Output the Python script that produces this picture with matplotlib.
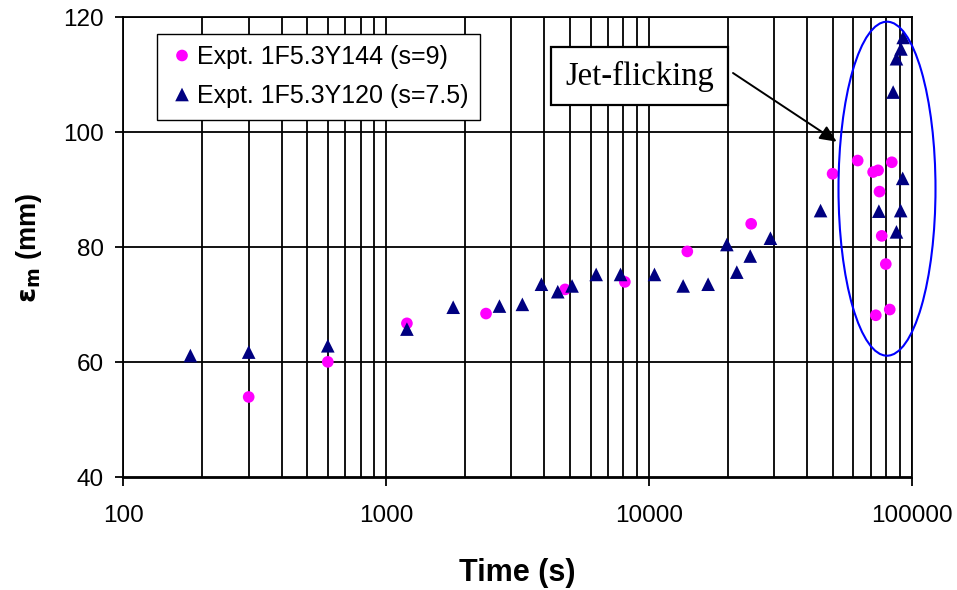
import matplotlib
matplotlib.use("Agg")
import matplotlib.pyplot as plt
from matplotlib.patches import Ellipse
from matplotlib.ticker import LogLocator, FixedLocator, NullFormatter

# ---- data ----
t_s9 = [300, 600, 1200, 2400, 4800, 8100, 14000, 24500, 50000, 62300,
        71300, 74500, 75400, 76900, 79700, 73000, 82500, 84000]
em_s9 = [54.0, 60.1, 66.8, 68.5, 72.7, 74.0, 79.3, 84.1, 92.8, 95.1,
         93.1, 93.4, 89.7, 82.0, 77.1, 68.2, 69.2, 94.8]

t_s75 = [180, 300, 600, 1200, 1800, 2700, 3300, 3900, 4500, 5100, 6300,
         7800, 10500, 13500, 16800, 19800, 21600, 24300, 29000, 45000,
         75000, 85000, 87500, 91000, 92800, 92400, 90800, 87500]
em_s75 = [61.2, 61.8, 62.9, 65.8, 69.6, 69.8, 70.1, 73.6, 72.3, 73.3, 75.3,
          75.3, 75.3, 73.3, 73.6, 80.5, 75.7, 78.5, 81.6, 86.4,
          86.3, 107.0, 112.8, 114.5, 116.5, 92.0, 86.4, 82.7]

label_s9 = "Expt. 1F5.3Y144 (s=9)"
label_s75 = "Expt. 1F5.3Y120 (s=7.5)"
xticks = [100, 1000, 10000, 100000]
xticklabels = ["100", "1000", "10000", "100000"]
yticks = [40, 60, 80, 100, 120]
annot_text = "Jet-flicking"

plt.rcParams['font.family'] = ['Liberation Sans', 'DejaVu Sans']

W, H = 957, 590
fig = plt.figure(figsize=(W / 100, H / 100), dpi=100)
x0, x1, ytop, ybot = 123.3, 911.7, 17.3, 477.5
ax = fig.add_axes([x0 / W, (H - ybot) / H, (x1 - x0) / W, (ybot - ytop) / H])

ax.set_xscale('log')
ax.set_xlim(100, 100000)
ax.set_ylim(40, 120)

ax.scatter(t_s9, em_s9, marker='o', s=8.4**2, color='#FF00FF',
           edgecolors='none', zorder=3, label=label_s9)
ax.scatter(t_s75, em_s75, marker='^', s=9.8**2, color='#000080',
           edgecolors='none', zorder=4, label=label_s75)

# grid
ax.xaxis.set_major_locator(FixedLocator(xticks))
ax.set_xticklabels(xticklabels)
ax.xaxis.set_minor_locator(LogLocator(base=10, subs=range(2, 10)))
ax.xaxis.set_minor_formatter(NullFormatter())
ax.set_yticks(yticks)
ax.grid(True, which='major', axis='both', color='black', lw=1.3, zorder=1)
ax.grid(True, which='minor', axis='x', color='black', lw=1.3, zorder=1)
ax.set_axisbelow(True)

for sp in ax.spines.values():
    sp.set_color('black')
    sp.set_linewidth(1.3)

ax.tick_params(axis='both', which='major', direction='out', length=6,
               width=1.3, labelsize=17.5, colors='black', pad=8)
ax.tick_params(axis='x', which='major', pad=14)
ax.tick_params(axis='x', which='minor', length=0)

ax.set_xlabel("Time (s)", fontsize=22, fontweight='bold', labelpad=22)
ax.set_ylabel(r"$\mathbf{\varepsilon}_{\mathbf{m}}$ (mm)", fontsize=19.5,
              fontweight='bold', labelpad=14)

leg = ax.legend(loc='upper left', bbox_to_anchor=((157 - x0) / (x1 - x0),
                (ybot - 34) / (ybot - ytop)), borderaxespad=0,
                fontsize=18, frameon=True, fancybox=False, framealpha=1,
                edgecolor='black', handletextpad=0.05, handlelength=1.1,
                borderpad=0.45, labelspacing=0.6, scatteryoffsets=[0.5])
leg.get_frame().set_linewidth(1.0)

# ellipse
ell = Ellipse(((887 - x0) / (x1 - x0), (ybot - 188.7) / (ybot - ytop)),
              97 / (x1 - x0), 334 / (ybot - ytop), transform=ax.transAxes,
              fill=False, edgecolor='#0000FF', lw=1.5, clip_on=False, zorder=5)
ax.add_patch(ell)

# annotation
def px(x, y):
    return ((x - x0) / (x1 - x0), (ybot - y) / (ybot - ytop))

ax.annotate("", xy=px(836.7, 141.7), xytext=px(733, 73),
            xycoords='axes fraction', textcoords='axes fraction',
            arrowprops=dict(arrowstyle='-|>,head_length=1.0,head_width=0.45',
                            color='black', lw=1.4, shrinkA=0, shrinkB=0),
            zorder=6)
ax.text(*px(639.5, 76), annot_text, transform=ax.transAxes,
        family=['Liberation Serif', 'DejaVu Serif'], fontsize=23.5,
        ha='center', va='center', zorder=7,
        bbox=dict(boxstyle='square,pad=0.42', facecolor='white',
                  edgecolor='black', lw=1.6))

fig.savefig("out.png", dpi=100)
